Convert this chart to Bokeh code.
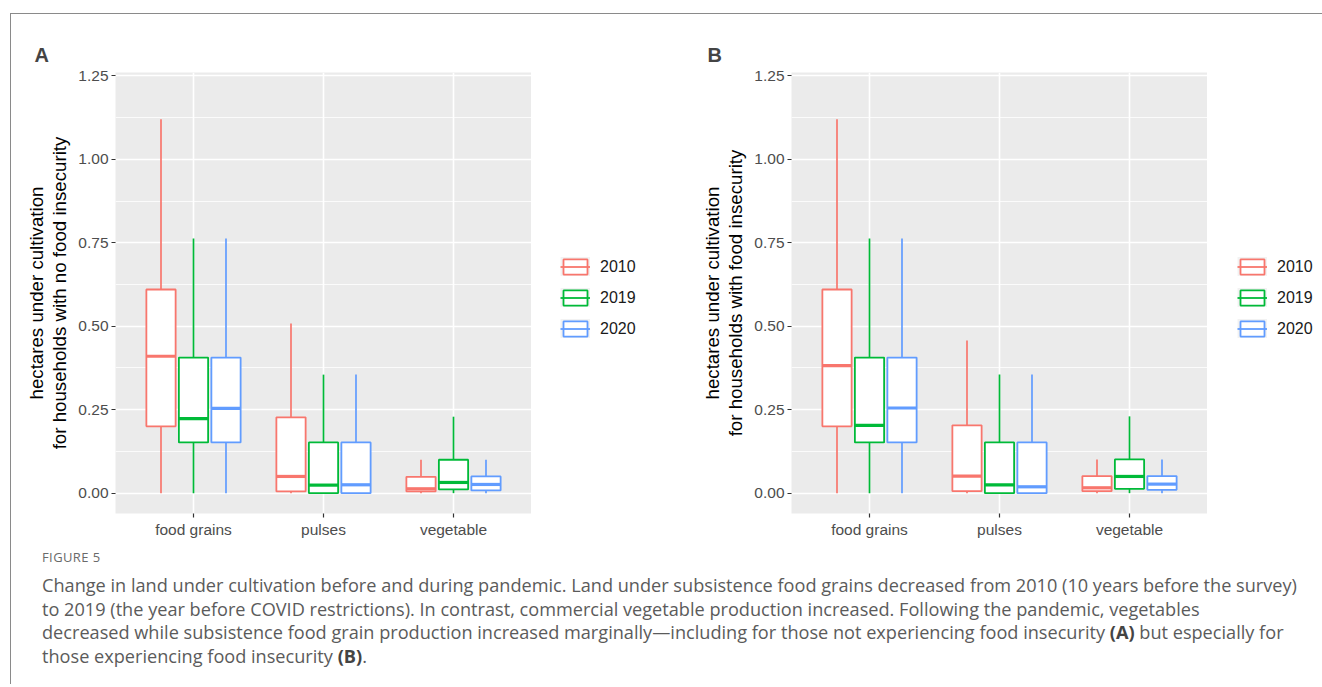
from bokeh.plotting import figure
from bokeh.models import (ColumnDataSource, FactorRange, Range1d, FixedTicker,
                          NumeralTickFormatter, Legend, LegendItem, Div, Title)
from bokeh.transform import dodge
from bokeh.layouts import row, column
from bokeh.embed import file_html
from bokeh.resources import INLINE

categories = ["food grains", "pulses", "vegetable"]
years = ["2010", "2019", "2020"]
colors = ["#F8766D", "#00BA38", "#619CFF"]
y_ticks = [0.0, 0.25, 0.5, 0.75, 1.0, 1.25]

# Panel A: households with no food insecurity (values per category)
A_lower = {"2010": [0.0, 0.0, 0.0], "2019": [0.0, 0.0, 0.0], "2020": [0.0, 0.0, 0.0]}
A_q1 = {"2010": [0.20, 0.005, 0.005], "2019": [0.152, 0.0, 0.011], "2020": [0.152, 0.0, 0.008]}
A_med = {"2010": [0.41, 0.05, 0.013], "2019": [0.223, 0.024, 0.032], "2020": [0.254, 0.025, 0.026]}
A_q3 = {"2010": [0.61, 0.227, 0.049], "2019": [0.406, 0.152, 0.10], "2020": [0.406, 0.152, 0.05]}
A_upper = {"2010": [1.12, 0.508, 0.10], "2019": [0.763, 0.355, 0.229], "2020": [0.763, 0.355, 0.10]}

# Panel B: households with food insecurity
B_lower = {"2010": [0.0, 0.0, 0.0], "2019": [0.0, 0.0, 0.0], "2020": [0.0, 0.0, 0.0]}
B_q1 = {"2010": [0.20, 0.006, 0.006], "2019": [0.152, 0.0, 0.013], "2020": [0.152, 0.0, 0.01]}
B_med = {"2010": [0.382, 0.051, 0.016], "2019": [0.203, 0.025, 0.05], "2020": [0.255, 0.019, 0.027]}
B_q3 = {"2010": [0.61, 0.203, 0.051], "2019": [0.406, 0.152, 0.101], "2020": [0.406, 0.152, 0.051]}
B_upper = {"2010": [1.12, 0.457, 0.101], "2019": [0.763, 0.355, 0.23], "2020": [0.763, 0.355, 0.101]}

FONT = "Liberation Sans"
H = 532
NAN = float("nan")


def make_panel(letter, title_offset, ylabel, lower, q1, med, q3, upper, width, mbl):
    p = figure(x_range=FactorRange(*categories, range_padding=0.2 / 3),
               y_range=Range1d(-0.061, 1.26),
               width=width, height=H, output_backend="svg", toolbar_location=None,
               min_border_left=mbl, min_border_right=0, min_border_top=58,
               min_border_bottom=33)
    p.background_fill_color = "#EBEBEB"
    p.border_fill_color = "white"
    p.outline_line_color = None

    p.yaxis.ticker = FixedTicker(ticks=y_ticks,
                                 minor_ticks=[(a + b) / 2 for a, b in zip(y_ticks[:-1], y_ticks[1:])])
    p.yaxis.formatter = NumeralTickFormatter(format="0.00")
    p.grid.grid_line_color = "white"
    p.grid.grid_line_width = 1.6
    p.ygrid.minor_grid_line_color = "white"
    p.ygrid.minor_grid_line_width = 0.8

    p.axis.axis_line_color = None
    p.axis.major_tick_line_color = "#333333"
    p.axis.major_tick_line_width = 1.2
    p.axis.major_tick_out = 4
    p.axis.major_tick_in = 0
    p.axis.minor_tick_line_color = None
    p.axis.major_label_text_font = FONT
    p.axis.major_label_text_font_size = "15.5px"
    p.axis.major_label_text_color = "#4D4D4D"
    p.axis.major_label_standoff = 3
    p.yaxis.axis_label = ylabel
    p.yaxis.axis_label_text_font = FONT
    p.yaxis.axis_label_text_font_size = "18.7px"
    p.yaxis.axis_label_text_font_style = "normal"
    p.yaxis.axis_label_text_color = "black"
    p.yaxis.axis_label_text_line_height = 1.1
    p.yaxis.axis_label_standoff = 5

    p.add_layout(Title(text=letter, align="left", offset=title_offset, standoff=14,
                       text_font=FONT, text_font_size="20px", text_font_style="bold"), "above")

    for j, (yr, c) in enumerate(zip(years, colors)):
        off = (j - 1) * 0.25
        src = ColumnDataSource(dict(cat=categories, lower=lower[yr], q1=q1[yr],
                                    med=med[yr], q3=q3[yr], upper=upper[yr]))
        xc = dodge("cat", off, range=p.x_range)
        p.segment(x0=xc, y0="q3", x1=xc, y1="upper", source=src, line_color=c, line_width=1.7)
        p.segment(x0=xc, y0="q1", x1=xc, y1="lower", source=src, line_color=c, line_width=1.7)
        p.vbar(x=xc, width=0.225, top="q3", bottom="q1", source=src,
               fill_color="white", line_color=c, line_width=1.8)
        p.segment(x0=dodge("cat", off - 0.1125, range=p.x_range), y0="med",
                  x1=dodge("cat", off + 0.1125, range=p.x_range), y1="med",
                  source=src, line_color=c, line_width=3.2)
    return p


def make_legend(width, gap):
    # legend-only figure: proxy renderers hold NaN (no visible marks)
    f = figure(width=width, height=H, output_backend="svg", toolbar_location=None,
               x_axis_type=None, y_axis_type=None, min_border=0,
               x_range=Range1d(0, 1), y_range=Range1d(0, 1))
    f.outline_line_color = None
    f.background_fill_color = "white"
    f.border_fill_color = "white"
    f.grid.visible = False
    bg = f.line(x=[NAN], y=[NAN], line_color="#F2F2F2", line_width=30)
    items = []
    for yr, c in zip(years, colors):
        box = f.vbar(x=[NAN], top=[NAN], bottom=[NAN], width=0.1, fill_color="white",
                     line_color=c, line_width=1.8)
        md = f.segment(x0=[NAN], y0=[NAN], x1=[NAN], y1=[NAN], line_color=c, line_width=1.8)
        items.append(LegendItem(label=yr, renderers=[bg, box, md]))
    legend = Legend(items=items, location=(gap, 175), margin=0, padding=0,
                    glyph_width=30, glyph_height=19, label_height=19, spacing=12,
                    label_standoff=10, background_fill_alpha=0, border_line_color=None,
                    label_text_font=FONT, label_text_font_size="16px",
                    label_text_color="#1A1A1A")
    f.add_layout(legend, "center")
    return f


pA = make_panel("A", -81, "hectares under cultivation\nfor households with no food insecurity",
                A_lower, A_q1, A_med, A_q3, A_upper, 520, 104)
lA = make_legend(146, 29)
pB = make_panel("B", -84, "hectares under cultivation\nfor households with food insecurity",
                B_lower, B_q1, B_med, B_q3, B_upper, 530, 114)
lB = make_legend(114, 30)

caption_html = (
    '<div style="font-family: \'Open Sans\', sans-serif; color:#5b5b5b; padding-left:26px;">'
    '<div style="font-size:13px; letter-spacing:0.4px; color:#6a6a6a; line-height:18px; margin-top:-3px;">FIGURE 5</div>'
    '<div style="font-size:18.15px; line-height:23.7px; white-space:nowrap; margin-top:8px;">'
    'Change in land under cultivation before and during pandemic. Land under subsistence food grains '
    'decreased from 2010 (10 years before the survey)<br>'
    'to 2019 (the year before COVID restrictions). In contrast, commercial vegetable production '
    'increased. Following the pandemic, vegetables<br>'
    'decreased while subsistence food grain production increased marginally\u2014including for those '
    'not experiencing food insecurity <b style="color:#444">(A)</b> but especially for<br>'
    'those experiencing food insecurity <b style="color:#444">(B)</b>.'
    '</div></div>'
)
cap = Div(text=caption_html, width=1308, height=128)

layout = column(row(pA, lA, pB, lB), cap, margin=(13, 0, 0, 10),
                styles={"border-top": "1.5px solid #8a8a8a", "border-left": "1.5px solid #8a8a8a",
                        "border-right": "1.5px solid #8a8a8a"})

open("out.html", "w").write(file_html(layout, INLINE))
